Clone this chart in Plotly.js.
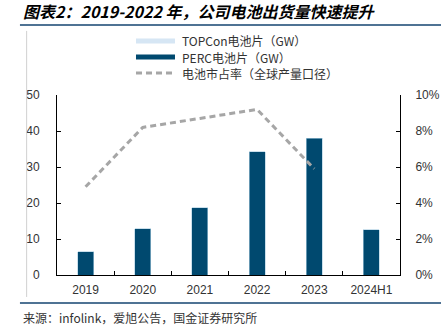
<!DOCTYPE html>
<html><head><meta charset="utf-8">
<script src="https://cdn.plot.ly/plotly-3.0.1.min.js"></script>
<style>html,body{margin:0;padding:0;background:#fff;}#chart{width:441px;height:334px;}</style>
</head><body><div id="chart"></div>
<script>
const categories = ['2019','2020','2021','2022','2023','2024H1'];
const topconGW = [null,null,null,null,null,null];
const percGW = [6.4, 12.8, 18.7, 34.2, 38.0, 12.6];
const shareCats = ['2019','2020','2021','2022','2023'];
const marketShare = [0.049, 0.082, 0.087, 0.092, 0.059];
const legendNames = ['TOPCon电池片（GW）','PERC电池片（GW）','电池市占率（全球产量口径）'];

const CJK = '"Noto Sans CJK SC", "Liberation Sans", Arial, sans-serif';
const LAT = 'Arial, "Liberation Sans", "Noto Sans CJK SC", sans-serif';

const traces = [
  {type:'bar', x:categories, y:topconGW, name:legendNames[0], marker:{color:'#d6e6f4'}},
  {type:'bar', x:categories, y:percGW, name:legendNames[1], marker:{color:'#00496f', line:{color:'#a9cbe0', width:0.6}}},
  {type:'scatter', mode:'lines', x:shareCats, y:marketShare, yaxis:'y2', name:legendNames[2],
   line:{color:'#a6a6a6', width:3, dash:'6px,4px'}}
];

// hand-placed legend (symbol + text per row)
const legStyles = [
  {color:'#d6e6f4', width:5, dash:'solid'},
  {color:'#00496f', width:5, dash:'solid'},
  {color:'#a6a6a6', width:3, dash:'6px,4px'}
];
const legRowsY = [1.3, 1.2111, 1.1222];
const shapes = [
  {type:'line', xref:'paper', yref:'paper', x0:-0.108, x1:1.12, y0:1.389, y1:1.389, line:{color:'#4f7394', width:2}},
  {type:'line', xref:'paper', yref:'paper', x0:-0.108, x1:1.12, y0:-0.156, y1:-0.156, line:{color:'#4f7394', width:2}},
  {type:'line', xref:'paper', yref:'paper', x0:-0.0885, x1:-0.0885, y0:-0.122, y1:1.356, line:{color:'#d0d0d0', width:1}}
];
const annotations = [
  {text:'<b><i>图表2：2019-2022 年，公司电池出货量快速提升</i></b>', xref:'paper', yref:'paper', x:-0.105, y:1.467,
   xanchor:'left', yanchor:'middle', showarrow:false, font:{family:CJK, size:16, color:'#000'}},
  {text:'来源：infolink，爱旭公告，国金证券研究所', xref:'paper', yref:'paper', x:-0.105, y:-0.175,
   xanchor:'left', yanchor:'top', showarrow:false, font:{family:CJK, size:12, color:'#333'}}
];
legendNames.forEach((nm, i) => {
  shapes.push({type:'line', xref:'paper', yref:'paper', x0:0.2303, x1:0.344, y0:legRowsY[i], y1:legRowsY[i], line:legStyles[i]});
  annotations.push({text:nm, xref:'paper', yref:'paper', x:0.3586, y:legRowsY[i], xanchor:'left', yanchor:'middle',
    showarrow:false, font:{family:CJK, size:12, color:'#333'}});
});

const layout = {
  width:441, height:334,
  margin:{l:57, r:41, t:95, b:59, pad:0},
  paper_bgcolor:'#fff', plot_bgcolor:'#fff',
  barmode:'stack', bargap:0.72,
  showlegend:false,
  xaxis:{type:'category', range:[-0.5,5.5], showline:true, linecolor:'#000', linewidth:1, mirror:false,
         ticks:'inside', tickson:'boundaries', ticklen:4, tickcolor:'#000', showgrid:false, zeroline:false,
         tickfont:{family:LAT, size:12, color:'#333'}, ticklabelstandoff:4},
  yaxis:{range:[0,50], dtick:10, showline:true, linecolor:'#000', linewidth:1, ticks:'inside', ticklen:4, tickcolor:'#000',
         showgrid:false, zeroline:false, tickfont:{family:LAT, size:12, color:'#333'}, ticklabelstandoff:14},
  yaxis2:{overlaying:'y', side:'right', range:[0,0.1], dtick:0.02, tickformat:'.0%', showline:true, linecolor:'#000', linewidth:1,
          ticks:'inside', ticklen:4, tickcolor:'#000', showgrid:false, zeroline:false,
          tickfont:{family:LAT, size:12, color:'#333'}, ticklabelstandoff:12},
  shapes:shapes,
  annotations:annotations
};

Plotly.newPlot('chart', traces, layout, {displayModeBar:false, staticPlot:true});
</script></body></html>
